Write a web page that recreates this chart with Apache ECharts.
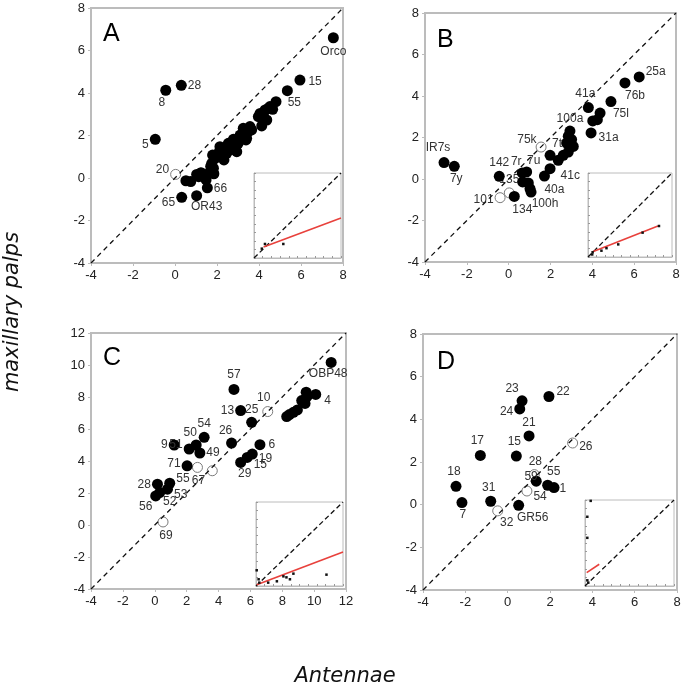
<!DOCTYPE html>
<html>
<head>
<meta charset="utf-8">
<script src="https://cdn.jsdelivr.net/npm/echarts@6/dist/echarts.min.js"></script>
<style>
  html, body { margin: 0; padding: 0; background: #fff; }
  #chart { width: 685px; height: 687px; }
</style>
</head>
<body>
<div id="chart"></div>
<script>
// ---- data (antennae, maxillary palps) ----
// panel A
const aNamed = [['Orco', 7.54, 6.6], ['15', 5.95, 4.61], ['55', 5.35, 4.11], ['28', 0.3, 4.36], ['8', -0.44, 4.13],
  ['5', -0.94, 1.82], ['66', 1.54, -0.46], ['65', 0.32, -0.91], ['OR43', 1.03, -0.83]]
const aOpen = [['20', 0.03, 0.17]]
const aRest = [[0.52, -0.13], [0.75, -0.17], [1.13, 0.06], [1.22, 0.22], [1.48, -0.09], [1.03, 0.17], [1.24, 0.25],
  [1.67, 0.3], [1.75, 0.69], [1.83, 0.46], [1.9, 0.93], [1.79, 1.08], [1.98, 1.0], [2.11, 1.24], [2.22, 1.16],
  [2.33, 0.85], [2.38, 1.4], [2.46, 1.47], [2.62, 1.32], [2.7, 1.66], [2.78, 1.82], [2.86, 1.63], [2.94, 1.24],
  [3.01, 1.63], [3.1, 1.79], [3.17, 1.95], [3.25, 2.34], [3.33, 2.1], [3.41, 1.87], [3.49, 2.18], [3.57, 2.42],
  [3.65, 2.26], [3.38, 1.79], [4.05, 3.04], [4.13, 2.81], [4.21, 2.96], [4.29, 3.2], [4.37, 2.73], [4.44, 3.28],
  [4.52, 3.36], [4.65, 3.23], [4.81, 3.59], [4.13, 2.45], [3.97, 2.89], [2.14, 1.47], [2.54, 1.63], [3.1, 2.02],
  [2.78, 1.47], [2.46, 1.16], [1.7, 0.55], [1.85, 0.2]]
const aInsetDots = [[1.26, 1.65], [3.37, 1.65], [0.9, 1.1]]
const aInsetFit = [[1.1, 1.3], [10, 4.7]]

// panel B
const bNamed = [['25a', 6.24, 4.92], ['76b', 5.56, 4.63], ['75l', 4.89, 3.73], ['41a', 3.81, 3.44], ['31a', 3.94, 2.22],
  ['100a', 2.93, 2.31], ['7t', 1.98, 1.14], ['41c', 1.98, 0.5], ['40a', 1.71, 0.14], ['7r', 0.65, 0.29],
  ['7u', 0.86, 0.34], ['100h', 1.07, -0.63], ['142', -0.45, 0.13], ['134', 0.27, -0.84], ['IR7s', -3.09, 0.79],
  ['7y', -2.6, 0.61]]
const bOpen = [['75k', 1.55, 1.54], ['135', 0.03, -0.67], ['101', -0.41, -0.9]]
const bRest = [[4.37, 3.18], [4.02, 2.8], [4.24, 2.86], [2.85, 2.06], [3.01, 1.9], [2.77, 1.73], [2.93, 1.54],
  [3.09, 1.57], [2.85, 1.3], [2.61, 1.14], [2.37, 0.9], [2.95, 1.85], [0.67, -0.14], [0.94, -0.19], [1.02, -0.47]]
const bInsetDots = [[8.45, 3.69], [6.5, 2.9], [3.6, 1.5], [2.2, 1.05], [1.6, 0.75], [0.55, 0.56], [0.5, 0.3]]
const bInsetFit = [[0.48, 0.6], [8.33, 3.69]]

// panel C
const cNamed = [['OBP48', 11.07, 10.16], ['4', 10.1, 8.16], ['57', 4.97, 8.47], ['13', 5.39, 7.15], ['25', 6.08, 6.42],
  ['26', 4.82, 5.12], ['6', 6.6, 5.02], ['19', 6.12, 4.43], ['15', 5.8, 4.22], ['29', 5.39, 3.91], ['54', 3.1, 5.48],
  ['50', 2.6, 5.0], ['51', 2.16, 4.75], ['49', 2.83, 4.5], ['9', 1.22, 5.0], ['71', 2.03, 3.7], ['28', 0.17, 2.55],
  ['55', 0.94, 2.61], ['53', 0.8, 2.24], ['52', 0.31, 2.03], ['56', 0.06, 1.82]]
const cOpen = [['10', 7.09, 7.09], ['67', 2.68, 3.6], ['', 3.61, 3.39], ['69', 0.52, 0.19]]
const cRest = [[9.5, 8.3], [9.55, 8.03], [9.22, 7.78], [9.43, 7.6], [8.95, 7.19], [8.7, 7.04], [8.45, 6.9], [8.28, 6.78]]
const cInsetDots = [[0.08, 1.87], [3.15, 1.15], [3.9, 0.8], [4.3, 1.47], [8.1, 1.35], [1.4, 0.4], [2.4, 0.56],
  [3.5, 1.03], [0.38, 0.4], [0.3, 0.8]]
const cInsetFit = [[0.08, 0.16], [10, 4.05]]

// panel D
const dNamed = [['22', 1.95, 5.07], ['23', 0.68, 4.87], ['24', 0.57, 4.49], ['21', 1.01, 3.22], ['17', -1.29, 2.31],
  ['15', 0.41, 2.28], ['59', 1.35, 1.1], ['55', 1.89, 0.91], ['1', 2.19, 0.8], ['18', -2.44, 0.86], ['7', -2.16, 0.1],
  ['31', -0.8, 0.16], ['GR56', 0.52, -0.03]]
const dOpen = [['26', 3.07, 2.89], ['28', 1.26, 1.41], ['54', 0.91, 0.64], ['32', -0.47, -0.29]]
const dRest = []
const dInsetDots = [[0.64, 9.9], [0.26, 8.05], [0.26, 5.6], [0.26, 0.66], [0.37, 0.39]]
const dInsetFit = [[0.19, 1.56], [1.6, 2.53]]

// axis ranges [min, max] for x and y
const xRanges = [[-4, 8], [-4, 8], [-4, 12], [-4, 8]]
const yRanges = [[-4, 8], [-4, 8], [-4, 12], [-4, 8]]
const panelNames = ['A', 'B', 'C', 'D']

// ---- layout / styles ----
const mainGrids = [
  { left: 91, top: 8, width: 252, height: 255 },
  { left: 425, top: 13, width: 251, height: 249 },
  { left: 91, top: 333, width: 255, height: 256 },
  { left: 423, top: 334, width: 254, height: 256 }
]
const insetGrids = [
  { left: 254, top: 173, width: 87, height: 85 },
  { left: 588, top: 173, width: 84, height: 84 },
  { left: 256, top: 502, width: 87, height: 84 },
  { left: 585, top: 500, width: 89, height: 86 }
]
const letterPos = [[103, 22], [437, 28], [103, 346], [437, 350]]

// label placement: name -> [position, offset]
const labelPos = [
  { Orco: ['bottom', [0, -1]], '15': ['right', [0, 2]], '55': ['bottom', [7, -2]], '28': ['right', [-2, 0]],
    '8': ['bottom', [-4, -2]], '5': ['left', [2, 5]], '20': ['left', [2, -5]], '66': ['right', [-2, 1]],
    '65': ['left', [2, 5]], OR43: ['bottom', [10, -3]] },
  { '25a': ['right', [-2, -5]], '76b': ['bottom', [10, -2]], '75l': ['bottom', [10, -2]], '41a': ['top', [-3, 1]],
    '31a': ['right', [-1, 5]], '100a': ['top', [0, 2]], '7t': ['top', [7, 3]], '41c': ['right', [2, 7]],
    '40a': ['bottom', [10, -1]], '7r': ['top', [-6, 3]], '7u': ['top', [7, 3]], '100h': ['bottom', [14, -3]],
    '142': ['top', [0, 1]], '134': ['bottom', [8, -1]], IR7s: ['top', [-6, 0]], '7y': ['bottom', [2, -2]],
    '75k': ['left', [4, -7]], '135': ['top', [0, 1]], '101': ['left', [2, 2]] },
  { OBP48: ['bottom', [-3, -3]], '4': ['right', [0, 6]], '57': ['top', [0, 0]], '13': ['left', [2, 0]],
    '25': ['top', [0, 2]], '10': ['top', [-4, 1]], '26': ['top', [-6, 2]], '6': ['right', [0, 0]],
    '19': ['right', [-2, 5]], '15': ['right', [-2, 7]], '29': ['bottom', [4, -3]], '54': ['top', [0, 1]],
    '50': ['top', [-6, 2]], '51': ['left', [2, -4]], '49': ['right', [-2, 0]], '9': ['left', [2, 0]],
    '71': ['left', [2, -2]], '67': ['bottom', [1, -1]], '28': ['left', [2, 0]], '55': ['right', [-2, -5]],
    '53': ['right', [-2, 6]], '52': ['bottom', [10, -5]], '56': ['bottom', [-10, -4]], '69': ['bottom', [3, -1]] },
  { '22': ['right', [-1, -5]], '23': ['top', [-10, 2]], '24': ['left', [2, 3]], '21': ['top', [0, 1]],
    '26': ['right', [-2, 4]], '17': ['top', [-3, 0]], '15': ['top', [-2, 0]], '28': ['top', [1, 2]],
    '59': ['left', [10, -5]], '55': ['top', [6, 1]], '1': ['right', [-3, 1]], '54': ['right', [-2, 6]],
    '18': ['top', [-2, 0]], '7': ['bottom', [1, -2]], '31': ['top', [-2, 1]], '32': ['bottom', [9, -3]],
    GR56: ['bottom', [14, -2]] }
]

const GRAY = '#bcbcbc'
const FONT = 'Liberation Sans, Arial, sans-serif'

function named(list, pos) {
  return list.map(([n, x, y]) => {
    const p = pos[n] || ['right', [0, 0]]
    return { name: n, value: [x, y], label: { show: n !== '', position: p[0], offset: p[1] } }
  })
}

const named_ = [aNamed, bNamed, cNamed, dNamed]
const open_ = [aOpen, bOpen, cOpen, dOpen]
const rest_ = [aRest, bRest, cRest, dRest]
const insetDots_ = [aInsetDots, bInsetDots, cInsetDots, dInsetDots]
const insetFit_ = [aInsetFit, bInsetFit, cInsetFit, dInsetFit]

const grid = [], xAxis = [], yAxis = [], series = [], graphic = []

for (let i = 0; i < 4; i++) {
  grid.push(Object.assign({ show: true, borderColor: GRAY, borderWidth: 2, backgroundColor: 'transparent' }, mainGrids[i]))
  const axisBase = {
    splitLine: { show: false },
    axisLine: { onZero: false, lineStyle: { color: GRAY, width: 2 } },
    axisTick: { show: true, length: 3, lineStyle: { color: GRAY } },
    axisLabel: { color: '#222', fontSize: 13, fontFamily: FONT, margin: 6 },
    interval: 2
  }
  xAxis.push(Object.assign({ type: 'value', gridIndex: i, min: xRanges[i][0], max: xRanges[i][1] }, axisBase))
  yAxis.push(Object.assign({ type: 'value', gridIndex: i, min: yRanges[i][0], max: yRanges[i][1] }, axisBase))

  const lab = { color: '#333', fontSize: 12, fontFamily: FONT, distance: 3, formatter: '{b}' }
  // open circles below the diagonal
  series.push({
    type: 'scatter', xAxisIndex: i, yAxisIndex: i, symbolSize: 10, z: 2,
    itemStyle: { color: '#fff', borderColor: '#7a7a7a', borderWidth: 1, opacity: 1 },
    label: lab, data: named(open_[i], labelPos[i])
  })
  const lo = Math.max(xRanges[i][0], yRanges[i][0]), hi = Math.min(xRanges[i][1], yRanges[i][1])
  series.push({
    type: 'line', xAxisIndex: i, yAxisIndex: i, symbol: 'none', z: 3, silent: true,
    lineStyle: { color: '#111', width: 1.3, type: [5, 4] },
    data: [[lo, lo], [hi, hi]]
  })
  series.push({
    type: 'scatter', xAxisIndex: i, yAxisIndex: i, symbolSize: 11, z: 4,
    itemStyle: { color: '#000', opacity: 1 },
    label: lab,
    data: named(named_[i], labelPos[i]).concat(rest_[i].map(v => ({ value: v, label: { show: false } })))
  })

  graphic.push({
    type: 'text', left: letterPos[i][0], top: letterPos[i][1],
    style: { text: panelNames[i], fontSize: 25, fontFamily: FONT, fill: '#000' }
  })
}

for (let i = 0; i < 4; i++) {
  const g = 4 + i
  grid.push(Object.assign({ show: true, borderColor: GRAY, borderWidth: 1, backgroundColor: '#fff' }, insetGrids[i]))
  const ib = {
    type: 'value', gridIndex: g, min: 0, max: 10, interval: 1,
    splitLine: { show: false },
    axisLine: { onZero: false, lineStyle: { color: GRAY, width: 1 } },
    axisTick: { show: true, inside: true, length: 2, lineStyle: { color: '#999' } },
    axisLabel: { show: false }
  }
  xAxis.push(Object.assign({}, ib))
  yAxis.push(Object.assign({}, ib))
  series.push({
    type: 'line', xAxisIndex: g, yAxisIndex: g, symbol: 'none', z: 5, silent: true,
    lineStyle: { color: '#111', width: 1.3, type: [5, 3] },
    data: [[0, 0], [10, 10]]
  })
  series.push({
    type: 'line', xAxisIndex: g, yAxisIndex: g, symbol: 'none', z: 6, silent: true,
    lineStyle: { color: '#e8413c', width: 1.6 },
    data: insetFit_[i]
  })
  series.push({
    type: 'scatter', xAxisIndex: g, yAxisIndex: g, symbolSize: 2.5, symbol: 'rect', z: 7,
    itemStyle: { color: '#111', opacity: 1 },
    data: insetDots_[i]
  })
}

graphic.push({
  type: 'text', x: 345, y: 666,
  style: { text: 'Antennae', fontSize: 21, fontStyle: 'italic', fontFamily: 'DejaVu Sans, sans-serif', fill: '#111', textAlign: 'center' }
})
graphic.push({
  type: 'text', x: 13, y: 312, rotation: Math.PI / 2,
  style: { text: 'maxillary palps', fontSize: 21, fontStyle: 'italic', fontFamily: 'DejaVu Sans, sans-serif', fill: '#111', textAlign: 'center', textVerticalAlign: 'middle' }
})

const myChart = echarts.init(document.getElementById('chart'), null, { renderer: 'canvas' })
myChart.setOption({ animation: false, grid, xAxis, yAxis, series, graphic })
window.onresize = function () {
  myChart.resize()
}
</script>
</body>
</html>
